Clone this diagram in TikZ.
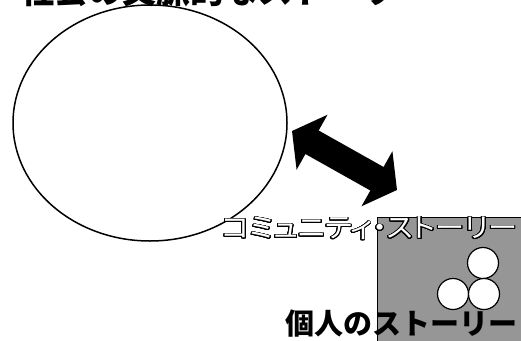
\documentclass[tikz,border=0pt]{standalone}
\usepackage{fontspec}
\usepackage{contour}
\usetikzlibrary{shapes.geometric,arrows.meta}
\newfontfamily\jp{Noto Sans CJK JP}
\newfontfamily\jpprop{Noto Sans CJK JP}[RawFeature=+palt]
\definecolor{boxgray}{RGB}{150,150,150}
\contourlength{0.9pt}
\contournumber{24}
\tikzset{
  outline/.style={draw=black,line width=1.5pt},
  pebble/.style={circle,draw=black,fill=white,line width=1.2pt,minimum size=31pt,inner sep=0pt},
  bigarrow/.style={line width=27pt,{Triangle[length=23pt,width=62pt]}-{Triangle[length=23pt,width=62pt]}},
  label/.style={inner sep=0pt,outer sep=0pt}
}
\begin{document}
\begin{tikzpicture}[x=1pt,y=-1pt]
\clip (0,0) rectangle (521,340);
\fill[white] (0,0) rectangle (521,340);
% title (cut by the top edge)
\node[label,anchor=base west,font=\jp\bfseries\fontsize{34}{34}\selectfont] (title) at (20,3) {社会の文脈的なストーリー};
% society ellipse
\node[ellipse,outline,minimum width=274pt,minimum height=236pt,inner sep=0pt] (society) at (150,123) {};
% double arrow
\coordinate (aL) at (292,131);
\coordinate (aR) at (397,190);
\draw[bigarrow] (aL) -- (aR);
% gray box
\node[draw=black,line width=0.5pt,fill=boxgray,anchor=north west,minimum width=160pt,minimum height=140pt,inner sep=0pt] (box) at (377,217) {};
% pebbles
\node[pebble] (p1) at (483,263) {};
\node[pebble] (p2) at (453,294) {};
\node[pebble] (p3) at (484,294) {};
% community story
\node[label,anchor=west,font=\jpprop\fontsize{27}{27}\selectfont] (community) at (222,229)
  {\resizebox{295pt}{\height}{\color{white}\contour{black}{コミュニティ・ストーリー}}};
% personal story
\node[label,anchor=base west,font=\jp\bfseries\fontsize{29}{29}\selectfont] (personal) at (285,334) {個人のストーリー};
\end{tikzpicture}
\end{document}
